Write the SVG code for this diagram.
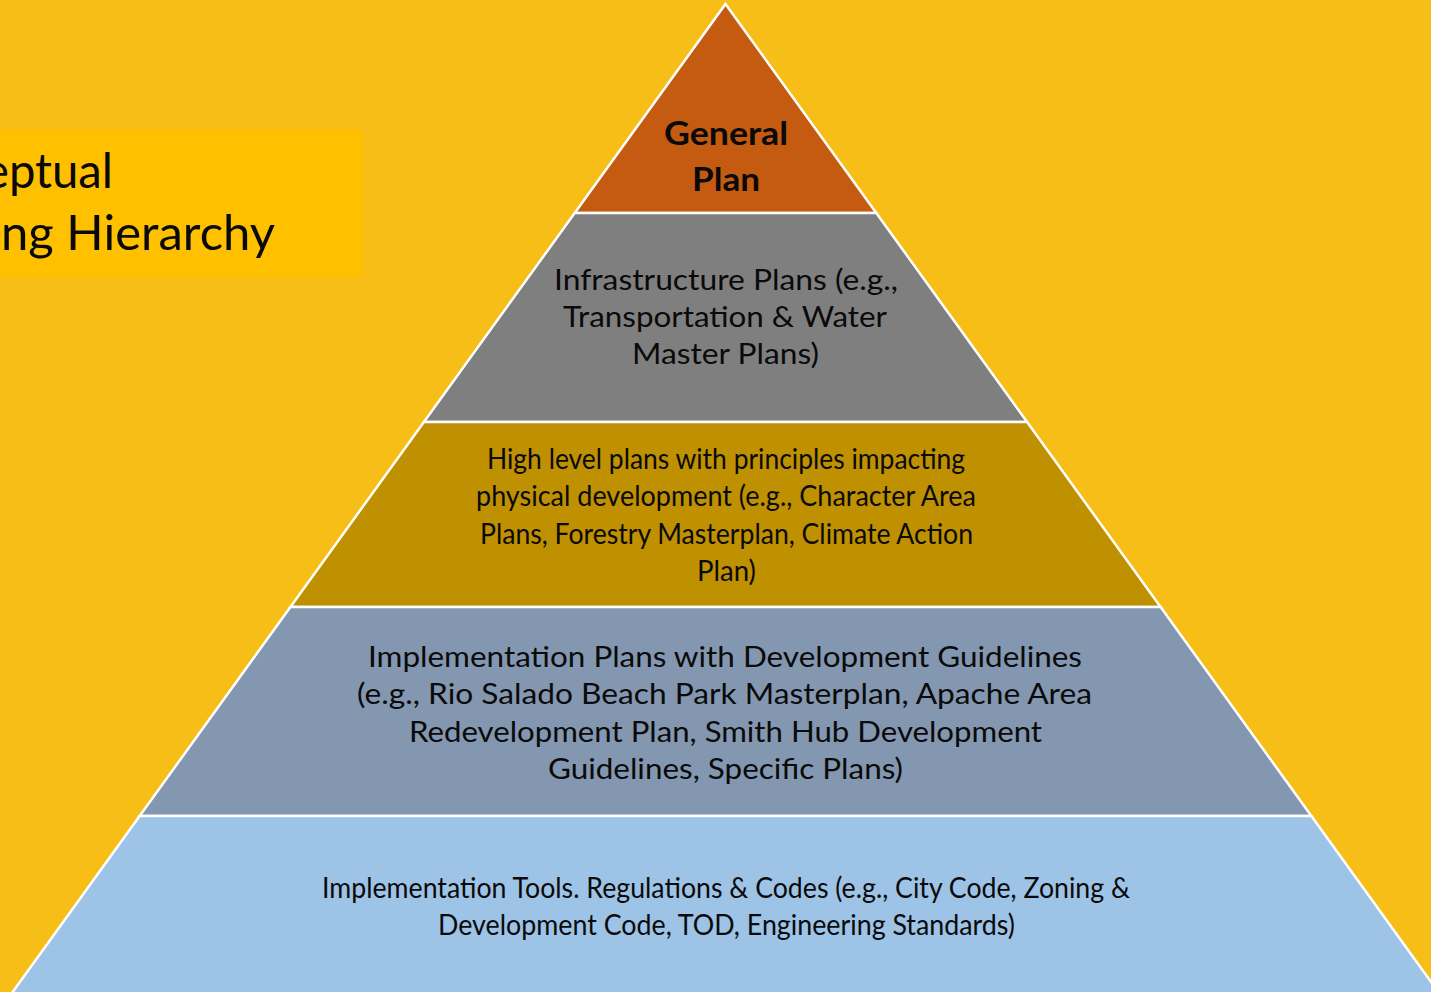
<svg xmlns="http://www.w3.org/2000/svg" width="1431" height="992" viewBox="0 0 1431 992">
<style>
.band{stroke:#FFFFFF;stroke-width:2.5;stroke-linejoin:miter}
.t{font-family:Lato,"Open Sans","Liberation Sans",sans-serif;fill:#0A0A0A;text-anchor:start}
.gp{font-size:32px;font-weight:bold}
.l2{font-size:28px}
.l3{font-size:28px}
.l4{font-size:28px}
.l5{font-size:28px}
.title{font-size:48px}
</style>
<rect x="0" y="0" width="1431" height="992" fill="#F6BE16"/>
<g id="title">
<rect x="0" y="130" width="363" height="147" fill="#FFC000"/>
<text class="t title" x="-16" y="188" textLength="129" lengthAdjust="spacingAndGlyphs">eptual</text>
<text class="t title" x="1" y="250" textLength="274" lengthAdjust="spacingAndGlyphs">ng Hierarchy</text>
</g>
<g id="level-general-plan">
<polygon class="band" fill="#C55A11" points="725.5,4 876.3,213 574.7,213"/>
<text class="t gp" x="664" y="145" textLength="124" lengthAdjust="spacingAndGlyphs">General</text>
<text class="t gp" x="692" y="191" textLength="68" lengthAdjust="spacingAndGlyphs">Plan</text>
</g>
<g id="level-infrastructure">
<polygon class="band" fill="#7F7F7F" points="574.7,213 876.3,213 1027.1,422 423.9,422"/>
<text class="t l2" x="554" y="290" textLength="344" lengthAdjust="spacingAndGlyphs">Infrastructure Plans (e.g.,</text>
<text class="t l2" x="563" y="327" textLength="324" lengthAdjust="spacingAndGlyphs">Transportation &amp; Water</text>
<text class="t l2" x="632" y="364" textLength="187" lengthAdjust="spacingAndGlyphs">Master Plans)</text>
</g>
<g id="level-high-level">
<polygon class="band" fill="#BF9000" points="423.9,422 1027.1,422 1160.6,607 290.4,607"/>
<text class="t l3" x="487" y="469" textLength="478" lengthAdjust="spacingAndGlyphs">High level plans with principles impacting</text>
<text class="t l3" x="476" y="506" textLength="500" lengthAdjust="spacingAndGlyphs">physical development (e.g., Character Area</text>
<text class="t l3" x="480" y="544" textLength="493" lengthAdjust="spacingAndGlyphs">Plans, Forestry Masterplan, Climate Action</text>
<text class="t l3" x="697" y="581" textLength="59" lengthAdjust="spacingAndGlyphs">Plan)</text>
</g>
<g id="level-implementation-plans">
<polygon class="band" fill="#8497B0" points="290.4,607 1160.6,607 1311.4,816 139.6,816"/>
<text class="t l4" x="368" y="667" textLength="714" lengthAdjust="spacingAndGlyphs">Implementation Plans with Development Guidelines</text>
<text class="t l4" x="357" y="704" textLength="735" lengthAdjust="spacingAndGlyphs">(e.g., Rio Salado Beach Park Masterplan, Apache Area</text>
<text class="t l4" x="409" y="742" textLength="633" lengthAdjust="spacingAndGlyphs">Redevelopment Plan, Smith Hub Development</text>
<text class="t l4" x="548" y="779" textLength="355" lengthAdjust="spacingAndGlyphs">Guidelines, Specific Plans)</text>
</g>
<g id="level-implementation-tools">
<polygon class="band" fill="#9DC3E6" points="139.6,816 1311.4,816 1444.1,1000 6.9,1000"/>
<text class="t l5" x="322" y="898" textLength="808" lengthAdjust="spacingAndGlyphs">Implementation Tools. Regulations &amp; Codes (e.g., City Code, Zoning &amp;</text>
<text class="t l5" x="438" y="935" textLength="577" lengthAdjust="spacingAndGlyphs">Development Code, TOD, Engineering Standards)</text>
</g>
</svg>
